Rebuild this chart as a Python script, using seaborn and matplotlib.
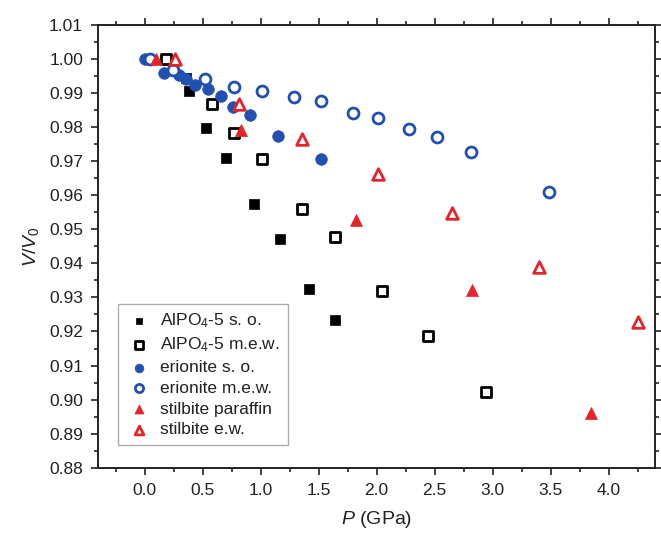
import numpy as np
import pandas as pd
import matplotlib
matplotlib.use('Agg')
import matplotlib.pyplot as plt
from matplotlib.ticker import MultipleLocator
import seaborn as sns

# values
alpo_so_p = [0.36, 0.38, 0.53, 0.70, 0.94, 1.17, 1.42, 1.64]
alpo_so_v = [0.9944, 0.9906, 0.9798, 0.9709, 0.9573, 0.9471, 0.9325, 0.9234]

alpo_mew_p = [0.18, 0.58, 0.77, 1.01, 1.36, 1.64, 2.05, 2.44, 2.94]
alpo_mew_v = [1.000, 0.9867, 0.9784, 0.9707, 0.9559, 0.9476, 0.9320, 0.9187, 0.9023]

eri_so_p = [0.0, 0.17, 0.30, 0.355, 0.435, 0.55, 0.66, 0.76, 0.91, 1.15, 1.52]
eri_so_v = [1.000, 0.996, 0.9953, 0.9941, 0.9924, 0.9911, 0.9891, 0.9860, 0.9836, 0.9775, 0.9706]

eri_mew_p = [0.05, 0.24, 0.52, 0.77, 1.01, 1.29, 1.52, 1.80, 2.01, 2.28, 2.52, 2.81, 3.49]
eri_mew_v = [1.000, 0.9968, 0.9941, 0.9917, 0.9906, 0.9888, 0.9877, 0.9841, 0.9826,
             0.9795, 0.9772, 0.9727, 0.9609]

stil_par_p = [0.10, 0.83, 1.82, 2.82, 3.85]
stil_par_v = [1.000, 0.9792, 0.9527, 0.9322, 0.8962]

stil_ew_p = [0.26, 0.81, 1.36, 2.01, 2.65, 3.40, 4.25]
stil_ew_v = [1.000, 0.9867, 0.9765, 0.9662, 0.9547, 0.9390, 0.9227]

labels = ['AlPO$_4$-5 s. o.', 'AlPO$_4$-5 m.e.w.', 'erionite s. o.',
          'erionite m.e.w.', 'stilbite paraffin', 'stilbite e.w.']

sns.set_style('ticks')
plt.rcParams['font.family'] = ['Liberation Sans', 'DejaVu Sans']
plt.rcParams['mathtext.fontset'] = 'custom'
plt.rcParams['mathtext.rm'] = 'Liberation Sans'
plt.rcParams['mathtext.it'] = 'Liberation Sans:italic'

blue = '#2150b0'
red = '#e3242b'

fig = plt.figure(figsize=(6.61, 5.36), dpi=100)
ax = fig.add_axes([0.1487, 0.1274, 0.8423, 0.826])

# (p, v, marker, size, face, edge, lw)
series = [
    (alpo_so_p, alpo_so_v, 's', 45, 'black', 'black', 0.5),
    (alpo_mew_p, alpo_mew_v, 's', 48, 'white', 'black', 2.0),
    (eri_so_p, eri_so_v, 'o', 70, blue, blue, 0.5),
    (eri_mew_p, eri_mew_v, 'o', 62, 'white', blue, 2.0),
    (stil_par_p, stil_par_v, '^', 75, red, red, 0.5),
    (stil_ew_p, stil_ew_v, '^', 70, 'white', red, 2.0),
]

for (p, v, m, s, fc, ec, lw), lab in zip(series, labels):
    df = pd.DataFrame({'P': p, 'V': v})
    sns.scatterplot(data=df, x='P', y='V', ax=ax, marker=m, s=s,
                    facecolor=fc, edgecolor=ec, linewidth=lw, label=lab, zorder=3)

ax.set_xlim(-0.4, 4.4)
ax.set_ylim(0.88, 1.01)
ax.xaxis.set_minor_locator(MultipleLocator(0.25))
ax.yaxis.set_minor_locator(MultipleLocator(0.005))
xt = np.arange(0, 4.01, 0.5)
yt = np.arange(0.88, 1.0101, 0.01)
ax.set_xticks(xt)
ax.set_xticklabels(['%.1f' % t for t in xt])
ax.set_yticks(yt)
ax.set_yticklabels(['%.2f' % t for t in yt])

ax.tick_params(which='both', direction='out', top=True, right=True,
               labelsize=12.5, width=1.2, colors='#222222', labelcolor='#222222')
ax.tick_params(which='major', length=5, pad=6)
ax.tick_params(which='minor', length=3)
for sp in ax.spines.values():
    sp.set_linewidth(1.4)
    sp.set_color('#222222')

ax.set_xlabel('$P$ (GPa)', fontsize=14, labelpad=8, color='#222222')
ax.set_ylabel('$V$/$V_0$', fontsize=14, labelpad=6, color='#222222')

leg = ax.legend(loc='lower left', bbox_to_anchor=(0.035, 0.051), borderaxespad=0,
                fontsize=12.5, frameon=True, fancybox=False, edgecolor='#999999',
                handletextpad=0.5, labelspacing=0.32, borderpad=0.45,
                handlelength=1.5, markerscale=0.75)
leg.get_frame().set_linewidth(1.0)
for t in leg.get_texts():
    t.set_color('#222222')

fig.savefig('out.png', dpi=100)
